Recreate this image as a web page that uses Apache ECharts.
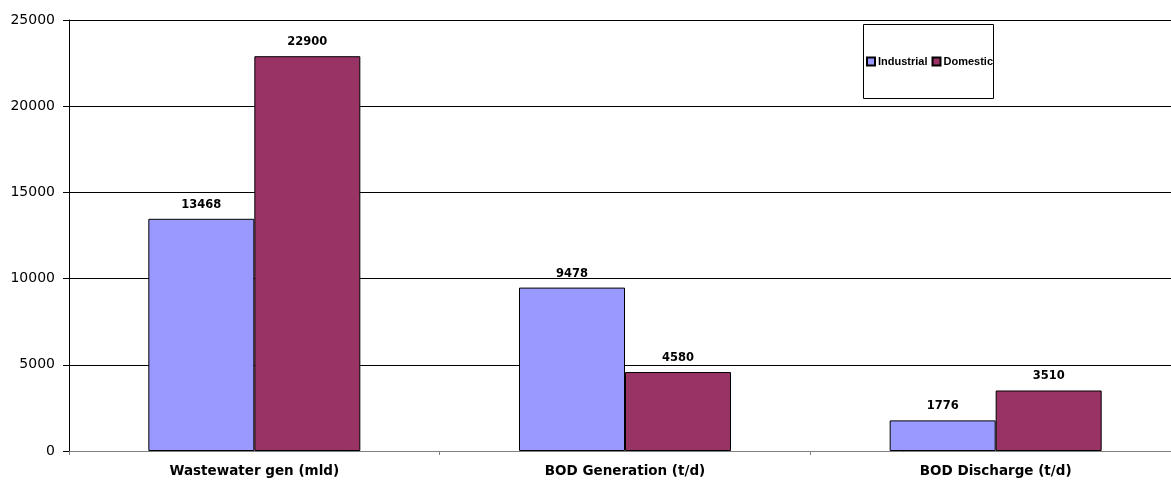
<!DOCTYPE html>
<html>
<head>
<meta charset="utf-8">
<script src="https://cdn.jsdelivr.net/npm/echarts@6/dist/echarts.min.js"></script>
<style>
  html, body { margin: 0; padding: 0; background: #fff; overflow: hidden; }
  #chart { width: 1181px; height: 480px; }
</style>
</head>
<body>
<div id="chart"></div>
<script>
// Wastewater generation and BOD load, industrial vs domestic
const categories = ['Wastewater gen (mld)', 'BOD Generation (t/d)', 'BOD Discharge (t/d)'];
const industrial = [13468, 9478, 1776];
const domestic = [22900, 4580, 3510];
const yTicks = [0, 5000, 10000, 15000, 20000, 25000];

const font = '"DejaVu Sans", "Liberation Sans", Arial, sans-serif';
const legendFont = '"Liberation Sans", Arial, sans-serif';
const chart = echarts.init(document.getElementById('chart'));

const barLabel = {
  show: true,
  position: 'top',
  distance: 8,
  color: '#000',
  fontFamily: font,
  fontWeight: 'bold',
  fontSize: 11.5
};

chart.setOption({
  animation: false,
  grid: { left: 69, right: 0, top: 20, bottom: 29, containLabel: false },
  legend: {
    data: ['Industrial', 'Domestic'],
    left: 863,
    top: 56,
    padding: [0, 0, 0, 3],
    itemWidth: 8,
    itemHeight: 8,
    itemGap: 4,
    icon: 'rect',
    textStyle: { fontFamily: legendFont, fontWeight: 'bold', fontSize: 11, color: '#000', padding: [0, 0, 0, -2] }
  },
  graphic: [{
    type: 'rect',
    shape: { x: 863.5, y: 24.5, width: 130, height: 74 },
    style: { fill: '#fff', stroke: '#000', lineWidth: 1 },
    z: 0
  }],
  xAxis: {
    type: 'category',
    data: categories,
    axisLine: { lineStyle: { color: '#808080', width: 1 } },
    axisTick: { show: true, length: 4, lineStyle: { color: '#808080' } },
    axisLabel: { color: '#000', fontFamily: font, fontWeight: 'bold', fontSize: 13.5, margin: 13 }
  },
  yAxis: {
    type: 'value',
    min: yTicks[0],
    max: yTicks[yTicks.length - 1],
    interval: 5000,
    axisLine: { show: true, lineStyle: { color: '#000', width: 1 } },
    axisTick: { show: true, length: 6, lineStyle: { color: '#000' } },
    axisLabel: { color: '#000', fontFamily: font, fontSize: 14, margin: 14, formatter: v => String(v) },
    splitLine: { show: true, lineStyle: { color: '#000', width: 1 } }
  },
  series: [
    {
      name: 'Industrial',
      type: 'bar',
      data: industrial,
      barWidth: 106,
      barGap: '0%',
      itemStyle: { color: '#9999FF', borderColor: '#000', borderWidth: 1 },
      label: barLabel,
      z: 3
    },
    {
      name: 'Domestic',
      type: 'bar',
      data: domestic,
      barWidth: 106,
      itemStyle: { color: '#993366', borderColor: '#000', borderWidth: 1 },
      label: barLabel,
      z: 3
    }
  ]
});
</script>
</body>
</html>
